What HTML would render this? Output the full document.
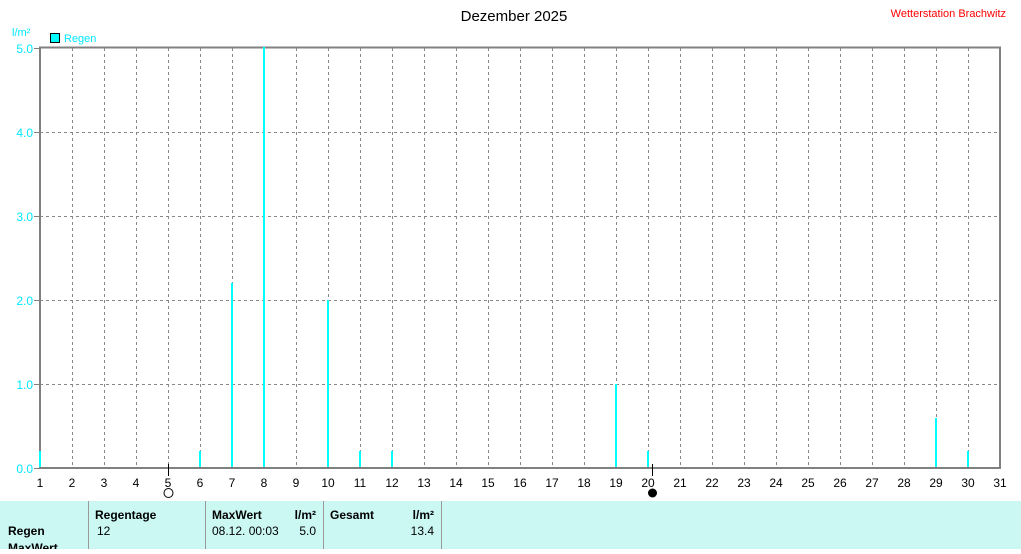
<!DOCTYPE html>
<html><head><meta charset="utf-8"><style>
body{margin:0;background:#fff;width:1021px;height:549px;overflow:hidden;font-family:"Liberation Sans",Arial,sans-serif}
</style></head><body>
<svg width="1021" height="549" xmlns="http://www.w3.org/2000/svg" font-family="Liberation Sans, Arial, sans-serif">
<text x="514" y="21" font-size="15" text-anchor="middle" fill="#000">Dezember 2025</text>
<text x="1006" y="17" font-size="11" text-anchor="end" fill="#ff0000">Wetterstation Brachwitz</text>
<text x="12" y="36" font-size="11" fill="#00e8ff">l/m²</text>
<rect x="50.5" y="33.5" width="9" height="9" fill="#00ffff" stroke="#000"/>
<text x="64" y="42" font-size="11" fill="#00e8ff">Regen</text>
<g stroke="#888" stroke-dasharray="3,3" stroke-width="1">
<line x1="40" x2="1000" y1="132.5" y2="132.5"/>
<line x1="40" x2="1000" y1="216.5" y2="216.5"/>
<line x1="40" x2="1000" y1="300.5" y2="300.5"/>
<line x1="40" x2="1000" y1="384.5" y2="384.5"/>
</g>
<g stroke="#888" stroke-dasharray="3,3">
<line x1="72.5" x2="72.5" y1="48" y2="468"/><line x1="104.5" x2="104.5" y1="48" y2="468"/><line x1="136.5" x2="136.5" y1="48" y2="468"/><line x1="168.5" x2="168.5" y1="48" y2="468"/><line x1="200.5" x2="200.5" y1="48" y2="468"/><line x1="232.5" x2="232.5" y1="48" y2="468"/><line x1="264.5" x2="264.5" y1="48" y2="468"/><line x1="296.5" x2="296.5" y1="48" y2="468"/><line x1="328.5" x2="328.5" y1="48" y2="468"/><line x1="360.5" x2="360.5" y1="48" y2="468"/><line x1="392.5" x2="392.5" y1="48" y2="468"/><line x1="424.5" x2="424.5" y1="48" y2="468"/><line x1="456.5" x2="456.5" y1="48" y2="468"/><line x1="488.5" x2="488.5" y1="48" y2="468"/><line x1="520.5" x2="520.5" y1="48" y2="468"/><line x1="552.5" x2="552.5" y1="48" y2="468"/><line x1="584.5" x2="584.5" y1="48" y2="468"/><line x1="616.5" x2="616.5" y1="48" y2="468"/><line x1="648.5" x2="648.5" y1="48" y2="468"/><line x1="680.5" x2="680.5" y1="48" y2="468"/><line x1="712.5" x2="712.5" y1="48" y2="468"/><line x1="744.5" x2="744.5" y1="48" y2="468"/><line x1="776.5" x2="776.5" y1="48" y2="468"/><line x1="808.5" x2="808.5" y1="48" y2="468"/><line x1="840.5" x2="840.5" y1="48" y2="468"/><line x1="872.5" x2="872.5" y1="48" y2="468"/><line x1="904.5" x2="904.5" y1="48" y2="468"/><line x1="936.5" x2="936.5" y1="48" y2="468"/><line x1="968.5" x2="968.5" y1="48" y2="468"/>
</g>
<rect x="40" y="47.5" width="960" height="420.5" fill="none" stroke="#808080" stroke-width="2"/>
<g fill="#00ffff">
<rect x="39" y="451" width="2" height="16"/>
<rect x="199" y="451" width="2" height="16"/>
<rect x="231" y="283" width="2" height="184"/>
<rect x="263" y="47" width="2" height="420"/>
<rect x="327" y="300" width="2" height="167"/>
<rect x="359" y="451" width="2" height="16"/>
<rect x="391" y="451" width="2" height="16"/>
<rect x="615" y="384" width="2" height="83"/>
<rect x="647" y="451" width="2" height="16"/>
<rect x="935" y="418" width="2" height="49"/>
<rect x="967" y="451" width="2" height="16"/>
</g>
<g stroke="#808080"><line x1="34" x2="40" y1="48.5" y2="48.5"/><line x1="34" x2="40" y1="132.5" y2="132.5"/><line x1="34" x2="40" y1="216.5" y2="216.5"/><line x1="34" x2="40" y1="300.5" y2="300.5"/><line x1="34" x2="40" y1="384.5" y2="384.5"/><line x1="34" x2="40" y1="468.5" y2="468.5"/></g>
<g font-size="12" fill="#00e8ff" text-anchor="end">
<text x="33" y="53">5.0</text><text x="33" y="137">4.0</text><text x="33" y="221">3.0</text><text x="33" y="305">2.0</text><text x="33" y="389">1.0</text><text x="33" y="473">0.0</text>
</g>
<g font-size="12" fill="#000" text-anchor="middle">
<text x="40" y="487">1</text><text x="72" y="487">2</text><text x="104" y="487">3</text><text x="136" y="487">4</text><text x="168" y="487">5</text><text x="200" y="487">6</text><text x="232" y="487">7</text><text x="264" y="487">8</text><text x="296" y="487">9</text><text x="328" y="487">10</text><text x="360" y="487">11</text><text x="392" y="487">12</text><text x="424" y="487">13</text><text x="456" y="487">14</text><text x="488" y="487">15</text><text x="520" y="487">16</text><text x="552" y="487">17</text><text x="584" y="487">18</text><text x="616" y="487">19</text><text x="648" y="487">20</text><text x="680" y="487">21</text><text x="712" y="487">22</text><text x="744" y="487">23</text><text x="776" y="487">24</text><text x="808" y="487">25</text><text x="840" y="487">26</text><text x="872" y="487">27</text><text x="904" y="487">28</text><text x="936" y="487">29</text><text x="968" y="487">30</text><text x="1000" y="487">31</text>
</g>
<line x1="168.5" x2="168.5" y1="464" y2="476" stroke="#000"/>
<circle cx="168.5" cy="493" r="4.5" fill="#fff" stroke="#000"/>
<line x1="652.5" x2="652.5" y1="464" y2="476" stroke="#000"/>
<circle cx="652.5" cy="493" r="4.5" fill="#000"/>
<rect x="0" y="501" width="1021" height="48" fill="#ccf8f4"/>
<g stroke="#999"><line x1="88.5" x2="88.5" y1="501" y2="549"/><line x1="205.5" x2="205.5" y1="501" y2="549"/><line x1="323.5" x2="323.5" y1="501" y2="549"/><line x1="441.5" x2="441.5" y1="501" y2="549"/></g>
<g font-size="12" fill="#000">
<text x="95" y="519" font-weight="bold">Regentage</text>
<text x="97" y="535">12</text>
<text x="212" y="519" font-weight="bold">MaxWert</text>
<text x="316" y="519" font-weight="bold" text-anchor="end">l/m²</text>
<text x="212" y="535">08.12.  00:03</text>
<text x="316" y="535" text-anchor="end">5.0</text>
<text x="330" y="519" font-weight="bold">Gesamt</text>
<text x="434" y="519" font-weight="bold" text-anchor="end">l/m²</text>
<text x="434" y="535" text-anchor="end">13.4</text>
<text x="8" y="535" font-weight="bold">Regen</text>
<text x="8" y="552" font-weight="bold">MaxWert</text>
</g>
</svg>
</body></html>
